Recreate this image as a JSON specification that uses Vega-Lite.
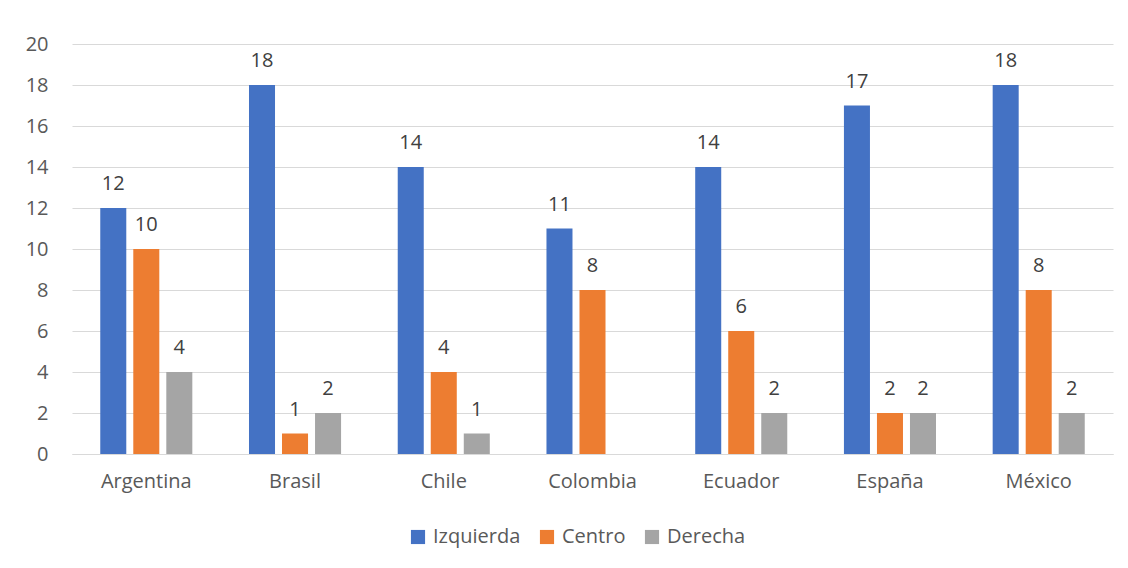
{
  "$schema": "https://vega.github.io/schema/vega-lite/v6.json",
  "autosize": "none",
  "width": 1041,
  "height": 410,
  "padding": {"left": 72, "top": 44, "right": 15, "bottom": 114},
  "background": "white",
  "config": {
    "font": "Open Sans",
    "view": {"stroke": null}
  },
  "data": {
    "values": [
      {"pais": "Argentina", "serie": "Izquierda", "valor": 12},
      {"pais": "Argentina", "serie": "Centro", "valor": 10},
      {"pais": "Argentina", "serie": "Derecha", "valor": 4},
      {"pais": "Brasil", "serie": "Izquierda", "valor": 18},
      {"pais": "Brasil", "serie": "Centro", "valor": 1},
      {"pais": "Brasil", "serie": "Derecha", "valor": 2},
      {"pais": "Chile", "serie": "Izquierda", "valor": 14},
      {"pais": "Chile", "serie": "Centro", "valor": 4},
      {"pais": "Chile", "serie": "Derecha", "valor": 1},
      {"pais": "Colombia", "serie": "Izquierda", "valor": 11},
      {"pais": "Colombia", "serie": "Centro", "valor": 8},
      {"pais": "Ecuador", "serie": "Izquierda", "valor": 14},
      {"pais": "Ecuador", "serie": "Centro", "valor": 6},
      {"pais": "Ecuador", "serie": "Derecha", "valor": 2},
      {"pais": "España", "serie": "Izquierda", "valor": 17},
      {"pais": "España", "serie": "Centro", "valor": 2},
      {"pais": "España", "serie": "Derecha", "valor": 2},
      {"pais": "México", "serie": "Izquierda", "valor": 18},
      {"pais": "México", "serie": "Centro", "valor": 8},
      {"pais": "México", "serie": "Derecha", "valor": 2}
    ]
  },
  "encoding": {
    "x": {
      "field": "pais",
      "type": "nominal",
      "sort": null,
      "scale": {"paddingInner": 0.381, "paddingOuter": 0.19},
      "axis": {
        "title": null,
        "labelAngle": 0,
        "labelFontSize": 20,
        "labelColor": "#595959",
        "labelPadding": 17,
        "ticks": false,
        "domainColor": "#D9D9D9",
        "domainWidth": 1
      }
    },
    "xOffset": {
      "field": "serie",
      "type": "nominal",
      "sort": ["Izquierda", "Centro", "Derecha"],
      "scale": {"paddingInner": 0.212, "paddingOuter": 0}
    },
    "y": {
      "field": "valor",
      "type": "quantitative",
      "scale": {"domain": [0, 20], "nice": false},
      "axis": {
        "title": null,
        "values": [0, 2, 4, 6, 8, 10, 12, 14, 16, 18, 20],
        "labelFontSize": 20,
        "labelColor": "#595959",
        "labelPadding": 24,
        "ticks": false,
        "domain": false,
        "gridColor": "#D9D9D9",
        "gridWidth": 1
      }
    }
  },
  "layer": [
    {
      "mark": {"type": "bar"},
      "encoding": {
        "color": {
          "field": "serie",
          "type": "nominal",
          "sort": ["Izquierda", "Centro", "Derecha"],
          "scale": {
            "domain": ["Izquierda", "Centro", "Derecha"],
            "range": ["#4472C4", "#ED7D31", "#A5A5A5"]
          },
          "legend": {
            "title": null,
            "orient": "none",
            "legendX": 336,
            "legendY": 483,
            "direction": "horizontal",
            "symbolType": "square",
            "symbolSize": 200,
            "symbolStrokeWidth": 0,
            "labelFontSize": 20,
            "labelColor": "#595959",
            "columnPadding": 16,
            "labelOffset": 5
          }
        }
      }
    },
    {
      "mark": {"type": "text", "baseline": "alphabetic", "dy": -18, "fontSize": 20, "color": "#404040"},
      "encoding": {
        "text": {"field": "valor", "type": "quantitative"}
      }
    }
  ]
}
